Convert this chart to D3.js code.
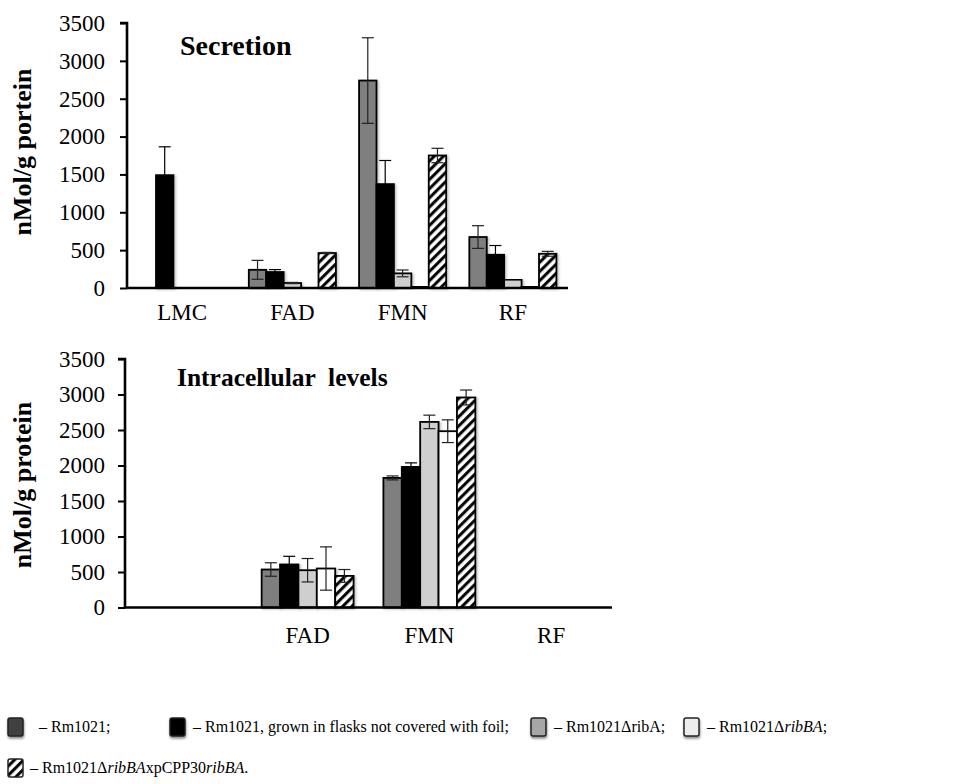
<!DOCTYPE html>
<html><head><meta charset="utf-8">
<script src="https://cdn.jsdelivr.net/npm/d3@7/dist/d3.min.js"></script>
<style>
body{margin:0;background:#fff;}
svg text{font-family:"Liberation Serif","Times New Roman",serif;}
</style></head>
<body>
<svg id="c" width="967" height="784"></svg>
<script>
// ---------- data ----------
const secCategories = ["LMC", "FAD", "FMN", "RF"];
const intCategories = ["", "FAD", "FMN", "RF"];
const seriesNames = ["Rm1021", "Rm1021 no foil", "Rm1021ΔribA", "Rm1021ΔribBA", "Rm1021ΔribBAxpCPP30ribBA"];
const yTicks = [0, 500, 1000, 1500, 2000, 2500, 3000, 3500];

// Secretion (nMol/g protein) per series, over LMC, FAD, FMN, RF
const sec1 = [0, 240, 2740, 673];
const sec2 = [1490, 211, 1372, 439];
const sec3 = [0, 66, 193, 110];
const sec4 = [0, 0, 25, 20];
const sec5 = [0, 462, 1750, 452];
const secErr1 = [0, 125, 565, 150];
const secErr2 = [375, 32, 312, 122];
const secErr3 = [0, 8, 45, 0];
const secErr4 = [0, 0, 0, 0];
const secErr5 = [0, 8, 95, 32];

// Intracellular levels
const int1 = [0, 535, 1825, 0];
const int2 = [0, 606, 1980, 0];
const int3 = [0, 525, 2614, 0];
const int4 = [0, 549, 2483, 0];
const int5 = [0, 445, 2958, 0];
const intErr1 = [0, 95, 28, 0];
const intErr2 = [0, 115, 57, 0];
const intErr3 = [0, 165, 95, 0];
const intErr4 = [0, 305, 160, 0];
const intErr5 = [0, 90, 105, 0];

const legendItems = [
  [["– Rm1021;", false]],
  [["– Rm1021, grown in flasks not covered with foil;", false]],
  [["– Rm1021ΔribA;", false]],
  [["– Rm1021Δ", false], ["ribBA", true], [";", false]],
  [["– Rm1021Δ", false], ["ribBA", true], ["xpCPP30", false], ["ribBA", true], [".", false]]
];

// ---------- styles ----------
const barFills = ["#7f7f7f", "#000000", "#cfcfcf", "#ffffff", "url(#hatch)"];
const legendFills = ["#404040", "#000000", "#a6a6a6", "#ececec", "url(#hatch)"];
const SERIF = '"Liberation Serif","Times New Roman",serif';

const svg = d3.select("#c");
const defs = svg.append("defs");
const pat = defs.append("pattern").attr("id", "hatch").attr("patternUnits", "userSpaceOnUse")
  .attr("width", 6.5).attr("height", 6.5).attr("patternTransform", "rotate(45)");
pat.append("rect").attr("width", 6.5).attr("height", 6.5).attr("fill", "#fff");
pat.append("line").attr("x1", 1.6).attr("y1", 0).attr("x2", 1.6).attr("y2", 6.5)
  .attr("stroke", "#000").attr("stroke-width", 3);
const flt = defs.append("filter").attr("id", "sh").attr("x", "-30%").attr("y", "-30%").attr("width", "160%").attr("height", "170%");
flt.append("feDropShadow").attr("dx", 0.5).attr("dy", 2).attr("stdDeviation", 1.2).attr("flood-color", "#000").attr("flood-opacity", 0.45);
const flt2 = defs.append("filter").attr("id", "bsh").attr("x", "-20%").attr("y", "-5%").attr("width", "150%").attr("height", "115%");
flt2.append("feDropShadow").attr("dx", 1.5).attr("dy", 1).attr("stdDeviation", 1.3).attr("flood-color", "#000").attr("flood-opacity", 0.25);

function drawChart(o) {
  const g = svg.append("g");
  const x0 = d3.scaleBand().domain(o.categories).range([o.left, o.right]);
  const gw = x0.bandwidth() * o.groupFrac;
  const x1 = d3.scaleBand().domain(d3.range(5)).range([0, gw]);
  const y = d3.scaleLinear().domain([0, 3500]).range([o.bottom, o.top]);

  // bars
  o.series.forEach((vals, si) => {
    const data = vals.map((v, ci) => ({v, e: o.errors[si][ci], c: o.categories[ci]})).filter(d => d.v > 0);
    g.selectAll(null).data(data).enter().append("rect")
      .attr("x", d => x0(d.c) + (x0.bandwidth() - gw) / 2 + x1(si))
      .attr("y", d => y(d.v))
      .attr("width", x1.bandwidth())
      .attr("height", d => y(0) - y(d.v))
      .attr("fill", barFills[si])
      .attr("stroke", "#000").attr("stroke-width", 1.8)
      .attr("filter", "url(#bsh)");
  });
  // error bars
  o.series.forEach((vals, si) => {
    const data = vals.map((v, ci) => ({v, e: o.errors[si][ci], c: o.categories[ci]})).filter(d => d.v > 0 && d.e > 0);
    const cx = d => x0(d.c) + (x0.bandwidth() - gw) / 2 + x1(si) + x1.bandwidth() / 2;
    const eg = g.selectAll(null).data(data).enter().append("g")
      .attr("stroke", si === 1 ? "#000" : "#222").attr("stroke-width", 1.2);
    eg.append("line").attr("x1", cx).attr("x2", cx).attr("y1", d => y(d.v + d.e)).attr("y2", d => y(Math.max(0, d.v - d.e)));
    eg.append("line").attr("x1", d => cx(d) - 6).attr("x2", d => cx(d) + 6).attr("y1", d => y(d.v + d.e)).attr("y2", d => y(d.v + d.e));
    eg.append("line").attr("x1", d => cx(d) - 6).attr("x2", d => cx(d) + 6).attr("y1", d => y(Math.max(0, d.v - d.e))).attr("y2", d => y(Math.max(0, d.v - d.e)));
  });

  // y axis
  const ya = g.append("g").attr("transform", `translate(${o.left},0)`)
    .call(d3.axisLeft(y).tickValues(yTicks).tickSize(7).tickPadding(o.tickPad).tickFormat(d3.format("d")))
    .attr("font-family", SERIF).attr("font-size", 23);
  ya.select(".domain").attr("stroke-width", 2.6).attr("d", `M-7,${o.top}H0V${o.bottom}`);
  ya.selectAll(".tick line").attr("stroke-width", 2);
  ya.selectAll(".tick text").attr("fill", "#000");

  // x axis
  const xa = g.append("g").attr("transform", `translate(0,${o.bottom})`)
    .call(d3.axisBottom(x0).tickSize(0).tickPadding(o.catPad))
    .attr("font-family", SERIF).attr("font-size", 23);
  xa.select(".domain").attr("stroke-width", 2.6).attr("d", `M${o.left},0H${o.right}`);
  xa.selectAll(".tick text").attr("fill", "#000");

  // title
  g.append("text").attr("x", o.titleX).attr("y", o.titleY).attr("font-size", o.titleSize)
    .attr("font-weight", "bold").style("white-space", "pre").text(o.title);
  // y label
  g.append("text").attr("transform", `translate(${o.ylabX},${o.ylabY}) rotate(-90)`)
    .attr("text-anchor", "middle").attr("font-size", 26).attr("font-weight", "bold").text(o.ylabel);
}

drawChart({
  categories: secCategories,
  series: [sec1, sec2, sec3, sec4, sec5],
  errors: [secErr1, secErr2, secErr3, secErr4, secErr5],
  left: 127, right: 568, top: 23, bottom: 288, groupFrac: 0.79, tickPad: 15, catPad: 16,
  title: "Secretion", titleX: 180, titleY: 55, titleSize: 28,
  ylabel: "nMol/g portein", ylabX: 31, ylabY: 152
});
drawChart({
  categories: intCategories,
  series: [int1, int2, int3, int4, int5],
  errors: [intErr1, intErr2, intErr3, intErr4, intErr5],
  left: 125, right: 612, top: 359, bottom: 607.5, groupFrac: 0.755, tickPad: 13, catPad: 19,
  title: "Intracellular  levels", titleX: 177, titleY: 386, titleSize: 25.5,
  ylabel: "nMol/g protein", ylabX: 31, ylabY: 485
});

// legend
const legPos = [[8, 727], [170, 727], [531, 727], [684, 727], [8, 768]];
const lg = svg.append("g");
legendItems.forEach((segs, i) => {
  const [lx, ly] = legPos[i];
  lg.append("rect").attr("x", lx).attr("y", ly - 9).attr("width", 15).attr("height", 18)
    .attr("rx", 2).attr("fill", legendFills[i]).attr("stroke", "#222").attr("stroke-width", 1.5)
    .attr("filter", i === 4 ? null : "url(#sh)");
  const t = lg.append("text").attr("x", lx + (i === 4 ? 22 : i === 0 ? 31 : 23)).attr("y", ly + 5).attr("font-size", 16);
  segs.forEach(([s, it]) => t.append("tspan").attr("font-style", it ? "italic" : "normal").text(s));
});
</script>
</body></html>
